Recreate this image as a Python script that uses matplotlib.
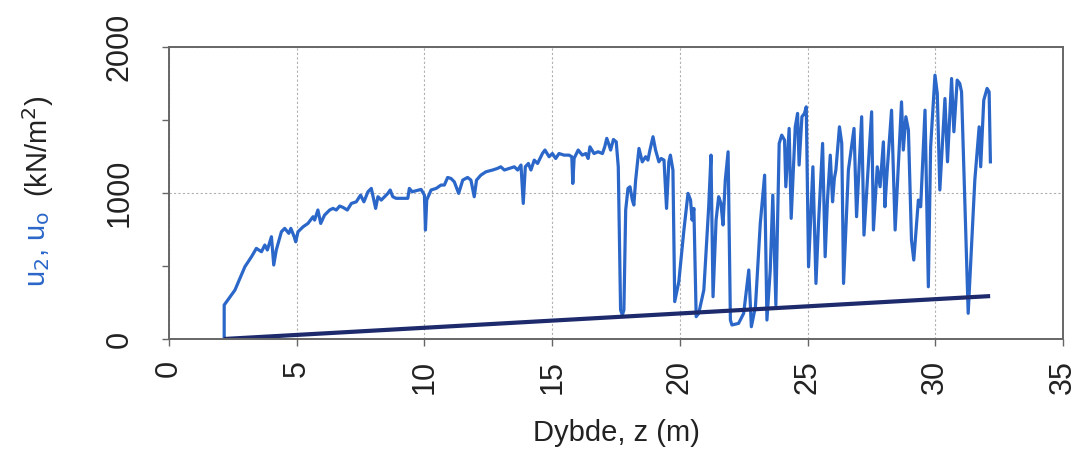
import numpy as np
import matplotlib
matplotlib.use("Agg")
import matplotlib.pyplot as plt

plt.rcParams["font.family"] = ["Liberation Sans", "DejaVu Sans"]

# u2 measured in the CPTU sounding
z_u2 = [2.16, 2.16, 2.58, 2.97, 3.23, 3.42, 3.62, 3.75, 3.85, 4.01, 4.10, 4.20,
        4.40, 4.53, 4.69, 4.77, 4.90, 4.96, 5.05, 5.25, 5.44, 5.64, 5.70, 5.83,
        5.94, 6.09, 6.29, 6.42, 6.55, 6.68, 6.81, 6.98, 7.14, 7.33, 7.50, 7.63,
        7.79, 7.92, 8.09, 8.18, 8.31, 8.44, 8.57, 8.66, 8.76, 8.89, 9.09, 9.35,
        9.41, 9.52, 9.67, 9.87, 10.00, 10.04, 10.09, 10.26, 10.46, 10.65, 10.78,
        10.91, 11.04, 11.17, 11.34, 11.50, 11.69, 11.82, 11.95, 12.04, 12.21,
        12.41, 12.67, 12.86, 12.99, 13.13, 13.32, 13.52, 13.65, 13.78, 13.87,
        13.95, 14.07, 14.17, 14.30, 14.43, 14.62, 14.72, 14.88, 15.01, 15.14,
        15.27, 15.47, 15.66, 15.77, 15.81, 15.86, 16.02, 16.18, 16.32, 16.41,
        16.48, 16.64, 16.80, 16.97, 17.06, 17.14, 17.23, 17.29, 17.40, 17.51,
        17.59, 17.68, 17.75, 17.81, 17.88, 17.97, 18.05, 18.14, 18.20, 18.27,
        18.40, 18.53, 18.66, 18.75, 18.83, 18.95, 19.05, 19.18, 19.27, 19.38,
        19.48, 19.57, 19.63, 19.73, 19.80, 19.96, 20.16, 20.32, 20.42, 20.48,
        20.55, 20.64, 20.74, 20.94, 21.13, 21.22, 21.30, 21.42, 21.52, 21.61,
        21.69, 21.78, 21.89, 21.98, 22.04, 22.30, 22.50, 22.70, 22.80, 22.96,
        23.15, 23.32, 23.41, 23.54, 23.64, 23.76, 23.89, 23.99, 24.10, 24.15,
        24.28, 24.36, 24.52, 24.61, 24.67, 24.78, 24.88, 24.95, 25.04, 25.21,
        25.33, 25.43, 25.59, 25.69, 25.78, 25.89, 25.98, 26.05, 26.11, 26.25,
        26.34, 26.41, 26.60, 26.82, 26.92, 27.12, 27.21, 27.51, 27.58, 27.73,
        27.84, 27.97, 28.03, 28.12, 28.29, 28.43, 28.68, 28.75, 28.85, 28.95,
        29.07, 29.16, 29.34, 29.43, 29.60, 29.73, 29.82, 29.99, 30.08, 30.18,
        30.38, 30.48, 30.64, 30.73, 30.86, 30.96, 31.03, 31.29, 31.55, 31.72,
        31.78, 31.90, 32.03, 32.11, 32.16]
u2 = [0, 233, 335, 495, 564, 621, 598, 644, 610, 701, 507, 610,
      735, 758, 724, 758, 701, 666, 735, 769, 792, 838, 815, 884,
      792, 849, 884, 895, 884, 911, 902, 884, 929, 940, 986, 940,
      1009, 1032, 895, 975, 952, 975, 998, 1021, 975, 964, 964, 964,
      1032, 1009, 1016, 1025, 986, 747, 952, 1021, 1032, 1055, 1055,
      1107, 1100, 1077, 998, 1089, 1107, 1089, 975, 1089, 1123,
      1146, 1158, 1169, 1180, 1158, 1169, 1180, 1158, 1192, 929,
      1180, 1203, 1158, 1226, 1203, 1271, 1295, 1249, 1271, 1237,
      1271, 1260, 1260, 1249, 1066, 1237, 1295, 1260, 1271, 1237,
      1317, 1271, 1283, 1271, 1317, 1375, 1329, 1295, 1367, 1351,
      1180, 199, 164, 199, 884, 1032, 1043, 952, 918, 1089,
      1306, 1214, 1249, 1226, 1295, 1386, 1295, 1214, 1237, 1226,
      895, 1214, 1260, 1158, 256, 392, 747, 998, 952, 815,
      895, 153, 176, 336, 906, 1260, 290, 815, 975, 929,
      781, 1089, 1283, 130, 96, 107, 176, 473, 84, 221,
      792, 1123, 130, 473, 986, 233, 1340, 1397, 1363, 1043,
      1443, 827, 1454, 1546, 1192, 1523, 1546, 1591, 495, 1180,
      381, 792, 1340, 564, 952, 1260, 940, 1100, 1158, 1454,
      1340, 381, 1158, 1443, 838, 1523, 712, 1557, 747, 1180,
      1043, 1351, 906, 1158, 1568, 747, 1625, 1295, 1523, 1432,
      678, 541, 952, 906, 1568, 358, 1317, 1808, 1683, 1021,
      1648, 1214, 1785, 1420, 1774, 1751, 1694, 176, 1089, 1454,
      1180, 1637, 1717, 1694, 1214]

# hydrostatic pore pressure u0
z_u0 = [2.15, 32.15]
u0 = [0, 294]

BLUE = "#2b67c9"
NAVY = "#1d2a6c"
TEXT = "#222222"

fig = plt.figure(figsize=(10.8, 4.49), dpi=100)
ax = fig.add_axes([0.1565, 0.245, 0.8277, 0.65])

ax.plot(z_u2, u2, color=BLUE, lw=2.3, solid_joinstyle="round")
ax.plot(z_u0, u0, color=NAVY, lw=3.0, solid_capstyle="butt")

ax.set_xlim(0, 35)
ax.set_ylim(0, 2000)
ax.set_xticks(np.arange(0, 36, 5))
ax.set_yticks([0, 1000, 2000])
ax.set_yticks([500, 1500], minor=True)

ax.grid(True, which="major", color="#b0b0b0", lw=0.8, ls=(0, (2, 2)))
for s in ax.spines.values():
    s.set_color("#666666")
    s.set_linewidth(1.4)

ax.tick_params(axis="both", which="both", direction="out", length=5,
               width=1.0, color="#666666", labelsize=22, labelcolor=TEXT)
ax.tick_params(axis="x", labelrotation=90, pad=10)
ax.tick_params(axis="y", labelrotation=90, pad=20)
for lbl in ax.get_yticklabels():
    lbl.set_va("center")

ax.set_xlabel("Dybde, z (m)", fontsize=21, color=TEXT, labelpad=18)

# y label in two colours
fig.text(0.035, 1 - 287 / 449, r"u$_2$, u$_\mathrm{o}$", rotation=90,
         color=BLUE, fontsize=21, ha="center", va="bottom")
fig.text(0.035, 1 - 197 / 449, "(kN/m$^2$)", rotation=90, color=TEXT,
         fontsize=21, ha="center", va="bottom")

fig.savefig("out.png", dpi=100, facecolor="white")
